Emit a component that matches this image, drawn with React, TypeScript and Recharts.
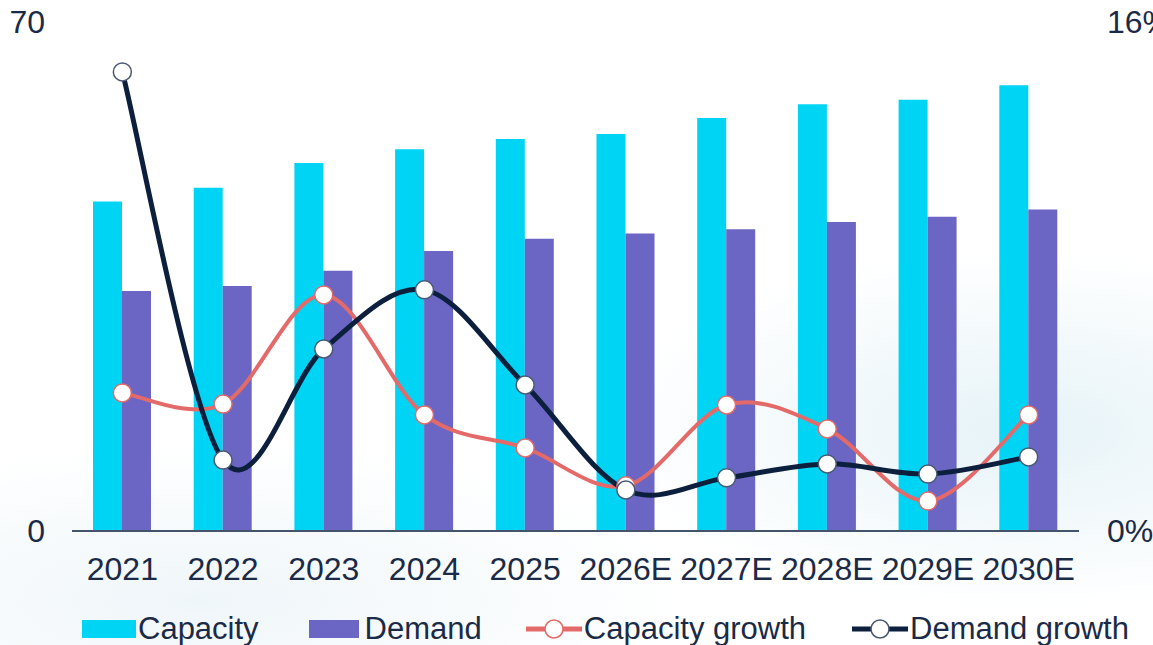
import {
  ComposedChart,
  Bar,
  Line,
  XAxis,
  YAxis,
  Legend,
} from 'recharts'

const years = ['2021', '2022', '2023', '2024', '2025', '2026E', '2027E', '2028E', '2029E', '2030E']
const capacity = [45.3, 47.2, 50.6, 52.5, 53.9, 54.6, 56.8, 58.7, 59.3, 61.3]
const demand = [33.0, 33.7, 35.8, 38.5, 40.2, 40.9, 41.5, 42.5, 43.2, 44.2]
// growth in percent
const capacityGrowth = [4.34, 3.99, 7.42, 3.65, 2.61, 1.42, 3.96, 3.21, 0.94, 3.65]
const demandGrowth = [14.43, 2.23, 5.72, 7.58, 4.59, 1.29, 1.67, 2.11, 1.79, 2.33]
const leftTicks = [0, 70]
const rightTicks = [0, 16]

const TEXT = '#1b2a47'
const CYAN = '#00d4f5'
const PURPLE = '#6b65c4'
const RED = '#e46a6a'
const NAVY = '#0c1f3d'
const FONT = '"Liberation Sans", Arial, sans-serif'

// Excel-like smoothed line (Catmull-Rom through the points)
function smoothCurve(context: any) {
  let pts: number[][] = []
  return {
    areaStart() {},
    areaEnd() {},
    lineStart() {
      pts = []
    },
    point(x: number, y: number) {
      pts.push([+x, +y])
    },
    lineEnd() {
      if (!pts.length) return
      context.moveTo(pts[0][0], pts[0][1])
      for (let i = 0; i < pts.length - 1; i++) {
        const p0 = pts[i - 1] || pts[i]
        const p1 = pts[i]
        const p2 = pts[i + 1]
        const p3 = pts[i + 2] || p2
        context.bezierCurveTo(
          p1[0] + (p2[0] - p0[0]) / 6,
          p1[1] + (p2[1] - p0[1]) / 6,
          p2[0] - (p3[0] - p1[0]) / 6,
          p2[1] - (p3[1] - p1[1]) / 6,
          p2[0],
          p2[1]
        )
      }
    },
  }
}

const legendItems = [
  { name: 'Capacity', color: CYAN, kind: 'bar' },
  { name: 'Demand', color: PURPLE, kind: 'bar' },
  { name: 'Capacity growth', color: RED, kind: 'line' },
  { name: 'Demand growth', color: NAVY, kind: 'line' },
]
const legendGaps = [50, 44, 46, 0]

function ChartLegend() {
  return (
    <div style={{ display: 'flex', alignItems: 'center', fontFamily: FONT, fontSize: 31, color: TEXT, whiteSpace: 'nowrap' }}>
      {legendItems.map((item, i) => (
        <div key={item.name} style={{ display: 'flex', alignItems: 'center', marginRight: legendGaps[i] }}>
          {item.kind === 'bar' ? (
            <div style={{ width: i === 0 ? 54 : 50, height: 18, background: item.color, marginRight: i === 0 ? 2 : 6 }} />
          ) : (
            <svg width={56} height={24} style={{ marginRight: 2 }}>
              <line x1={0} y1={12} x2={56} y2={12} stroke={item.color} strokeWidth={5} />
              <circle cx={28} cy={12} r={9} fill="#fff" stroke={item.color === NAVY ? '#4a5a72' : item.color} strokeWidth={1.5} />
            </svg>
          )}
          <span>{item.name}</span>
        </div>
      ))}
    </div>
  )
}

export default function App() {
  const data = years.map((year, i) => ({
    year,
    capacity: capacity[i],
    demand: demand[i],
    capacityGrowth: capacityGrowth[i],
    demandGrowth: demandGrowth[i],
  }))

  const tickStyle = { fontSize: 32, fill: TEXT, fontFamily: FONT }

  return (
    <div
      style={{
        position: 'absolute',
        left: 0,
        top: 0,
        width: 1153,
        height: 645,
        background:
          'radial-gradient(ellipse 420px 180px at 1020px 430px, rgba(200,228,238,0.45), rgba(255,255,255,0) 100%), radial-gradient(ellipse 500px 160px at 200px 600px, rgba(220,235,242,0.45), rgba(255,255,255,0) 100%), #fff',
      }}
    >
      <ComposedChart
        width={1153}
        height={645}
        data={data}
        margin={{ top: 22, right: 0, left: 0, bottom: 54 }}
        barGap={0}
      >
        <XAxis
          dataKey="year"
          axisLine={{ stroke: '#44546a', strokeWidth: 2 }}
          tickLine={false}
          tickSize={0}
          tickMargin={26}
          height={60}
          interval={0}
          tick={tickStyle}
        />
        <YAxis
          yAxisId="left"
          domain={[0, 70]}
          ticks={leftTicks}
          axisLine={false}
          tickLine={false}
          tickSize={0}
          tickMargin={27}
          width={72}
          tick={tickStyle}
        />
        <YAxis
          yAxisId="right"
          orientation="right"
          domain={[0, 16]}
          ticks={rightTicks}
          tickFormatter={(v) => `${v}%`}
          axisLine={false}
          tickLine={false}
          tickSize={0}
          tickMargin={28}
          width={74}
          tick={tickStyle}
        />
        <Legend
          verticalAlign="middle"
          align="center"
          content={() => <ChartLegend />}
          wrapperStyle={{ left: 82, top: 611, width: 'auto', height: 36 }}
        />
        <Bar yAxisId="left" dataKey="capacity" name="Capacity" fill={CYAN} barSize={29} isAnimationActive={false} />
        <Bar yAxisId="left" dataKey="demand" name="Demand" fill={PURPLE} barSize={29} isAnimationActive={false} />
        <Line
          yAxisId="right"
          dataKey="capacityGrowth"
          name="Capacity growth"
          type={smoothCurve as any}
          stroke={RED}
          strokeWidth={4}
          dot={{ r: 9, fill: '#fff', stroke: RED, strokeWidth: 1.5 }}
          activeDot={false}
          isAnimationActive={false}
        />
        <Line
          yAxisId="right"
          dataKey="demandGrowth"
          name="Demand growth"
          type={smoothCurve as any}
          stroke={NAVY}
          strokeWidth={5}
          dot={{ r: 9, fill: '#fff', stroke: '#4a5a72', strokeWidth: 1.5 }}
          activeDot={false}
          isAnimationActive={false}
        />
      </ComposedChart>
    </div>
  )
}
